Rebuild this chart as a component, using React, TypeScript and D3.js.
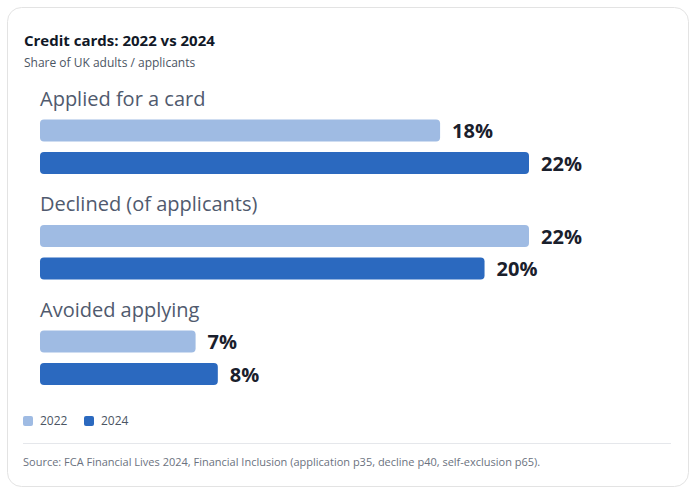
import React from 'react';
import * as d3 from 'd3';

// categories and shares (%) per survey year
const categories = ['Applied for a card', 'Declined (of applicants)', 'Avoided applying'];
const values2022 = [18, 22, 7];
const values2024 = [22, 20, 8];
const years = ['2022', '2024'];

const COLORS = ['#9fbbe3', '#2b69bf'];
const FONT = '"Open Sans", "Noto Sans", sans-serif';

const W = 696;
const H = 491;

export default function App() {
  const x = d3.scaleLinear().domain([0, 22]).range([40, 529]);
  const group = d3
    .scaleBand<string>()
    .domain(categories)
    .range([119.5, 436])
    .paddingInner(0)
    .paddingOuter(0);
  const barH = 22;
  const barGap = 32.5;

  const series = [values2022, values2024];

  return (
    <svg
      width={W}
      height={H}
      style={{position: 'absolute', left: 0, top: 0, fontFamily: FONT}}
    >
      <rect x={0} y={0} width={W} height={H} fill="#ffffff" />
      {/* card */}
      <rect
        x={7.5}
        y={7.5}
        width={681}
        height={479}
        rx={14}
        fill="#ffffff"
        stroke="#e3e3e3"
      />
      <text x={24} y={46} fontSize={15} fontWeight={700} fill="#111827">
        Credit cards: 2022 vs 2024
      </text>
      <text x={24} y={67} fontSize={12} fill="#4b5563">
        Share of UK adults / applicants
      </text>

      {categories.map((c, i) => {
        const top = group(c) as number;
        return (
          <g key={c}>
            <text x={x(0)} y={top - 14} fontSize={20} fill="#505a6e">
              {c}
            </text>
            {series.map((s, j) => {
              const y = top + j * barGap;
              return (
                <g key={j}>
                  <rect
                    x={x(0)}
                    y={y}
                    width={x(s[i]) - x(0)}
                    height={barH}
                    rx={4}
                    fill={COLORS[j]}
                  />
                  <text
                    x={x(s[i]) + 12}
                    y={y + barH / 2}
                    dy="0.38em"
                    fontSize={20}
                    fontWeight={700}
                    fill="#1a202c"
                  >
                    {d3.format('d')(s[i])}%
                  </text>
                </g>
              );
            })}
          </g>
        );
      })}

      {/* legend */}
      {years.map((yr, j) => (
        <g key={yr} transform={`translate(${23 + j * 61},416)`}>
          <rect width={10} height={10} rx={2} fill={COLORS[j]} />
          <text x={17} y={5} dy="0.36em" fontSize={12} fill="#4b5563">
            {yr}
          </text>
        </g>
      ))}

      <line x1={23} x2={671} y1={443.5} y2={443.5} stroke="#e5e7eb" />
      <text x={23} y={466} fontSize={11} fill="#6b7280">
        Source: FCA Financial Lives 2024, Financial Inclusion (application p35, decline p40, self-exclusion p65).
      </text>
    </svg>
  );
}
